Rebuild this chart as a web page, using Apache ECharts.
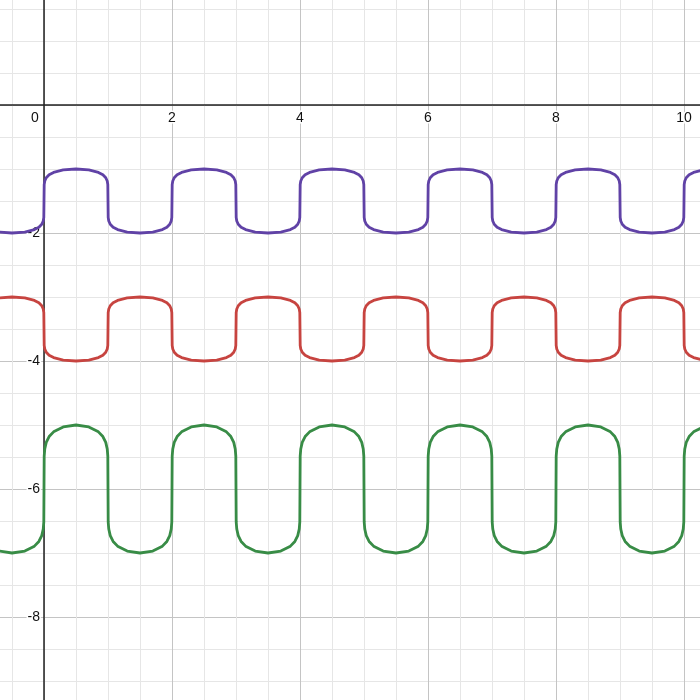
<!DOCTYPE html>
<html><head><meta charset="utf-8">
<script src="https://cdn.jsdelivr.net/npm/echarts@6/dist/echarts.min.js"></script>
<style>html,body{margin:0;padding:0;background:#fff}#c{width:700px;height:700px}</style>
</head><body><div id="c"></div>
<script>
const xs = [
-1,-0.997,-0.988,-0.965,-0.92,-0.85,-0.7,-0.5,-0.3,-0.15,-0.08,-0.035,-0.012,-0.003,
0,0.003,0.012,0.035,0.08,0.15,0.3,0.5,0.7,0.85,0.92,0.965,0.988,0.997,
1,1.003,1.012,1.035,1.08,1.15,1.3,1.5,1.7,1.85,1.92,1.965,1.988,1.997,
2,2.003,2.012,2.035,2.08,2.15,2.3,2.5,2.7,2.85,2.92,2.965,2.988,2.997,
3,3.003,3.012,3.035,3.08,3.15,3.3,3.5,3.7,3.85,3.92,3.965,3.988,3.997,
4,4.003,4.012,4.035,4.08,4.15,4.3,4.5,4.7,4.85,4.92,4.965,4.988,4.997,
5,5.003,5.012,5.035,5.08,5.15,5.3,5.5,5.7,5.85,5.92,5.965,5.988,5.997,
6,6.003,6.012,6.035,6.08,6.15,6.3,6.5,6.7,6.85,6.92,6.965,6.988,6.997,
7,7.003,7.012,7.035,7.08,7.15,7.3,7.5,7.7,7.85,7.92,7.965,7.988,7.997,
8,8.003,8.012,8.035,8.08,8.15,8.3,8.5,8.7,8.85,8.92,8.965,8.988,8.997,
9,9.003,9.012,9.035,9.08,9.15,9.3,9.5,9.7,9.85,9.92,9.965,9.988,9.997,
10,10.003,10.012,10.035,10.08,10.15,10.3,10.5,10.7,10.85,10.92,10.965,10.988,10.997,
11];

const purpleY = [
-1.5,-1.757,-1.813,-1.864,-1.91,-1.946,-1.985,-2,-1.985,-1.946,-1.91,-1.864,-1.813,-1.757,
-1.5,-1.243,-1.187,-1.136,-1.09,-1.054,-1.015,-1,-1.015,-1.054,-1.09,-1.136,-1.187,-1.243,
-1.5,-1.757,-1.813,-1.864,-1.91,-1.946,-1.985,-2,-1.985,-1.946,-1.91,-1.864,-1.813,-1.757,
-1.5,-1.243,-1.187,-1.136,-1.09,-1.054,-1.015,-1,-1.015,-1.054,-1.09,-1.136,-1.187,-1.243,
-1.5,-1.757,-1.813,-1.864,-1.91,-1.946,-1.985,-2,-1.985,-1.946,-1.91,-1.864,-1.813,-1.757,
-1.5,-1.243,-1.187,-1.136,-1.09,-1.054,-1.015,-1,-1.015,-1.054,-1.09,-1.136,-1.187,-1.243,
-1.5,-1.757,-1.813,-1.864,-1.91,-1.946,-1.985,-2,-1.985,-1.946,-1.91,-1.864,-1.813,-1.757,
-1.5,-1.243,-1.187,-1.136,-1.09,-1.054,-1.015,-1,-1.015,-1.054,-1.09,-1.136,-1.187,-1.243,
-1.5,-1.757,-1.813,-1.864,-1.91,-1.946,-1.985,-2,-1.985,-1.946,-1.91,-1.864,-1.813,-1.757,
-1.5,-1.243,-1.187,-1.136,-1.09,-1.054,-1.015,-1,-1.015,-1.054,-1.09,-1.136,-1.187,-1.243,
-1.5,-1.757,-1.813,-1.864,-1.91,-1.946,-1.985,-2,-1.985,-1.946,-1.91,-1.864,-1.813,-1.757,
-1.5,-1.243,-1.187,-1.136,-1.09,-1.054,-1.015,-1,-1.015,-1.054,-1.09,-1.136,-1.187,-1.243,
-1.5];

const redY = [
-3.5,-3.243,-3.187,-3.136,-3.09,-3.054,-3.015,-3,-3.015,-3.054,-3.09,-3.136,-3.187,-3.243,
-3.5,-3.757,-3.813,-3.864,-3.91,-3.946,-3.985,-4,-3.985,-3.946,-3.91,-3.864,-3.813,-3.757,
-3.5,-3.243,-3.187,-3.136,-3.09,-3.054,-3.015,-3,-3.015,-3.054,-3.09,-3.136,-3.187,-3.243,
-3.5,-3.757,-3.813,-3.864,-3.91,-3.946,-3.985,-4,-3.985,-3.946,-3.91,-3.864,-3.813,-3.757,
-3.5,-3.243,-3.187,-3.136,-3.09,-3.054,-3.015,-3,-3.015,-3.054,-3.09,-3.136,-3.187,-3.243,
-3.5,-3.757,-3.813,-3.864,-3.91,-3.946,-3.985,-4,-3.985,-3.946,-3.91,-3.864,-3.813,-3.757,
-3.5,-3.243,-3.187,-3.136,-3.09,-3.054,-3.015,-3,-3.015,-3.054,-3.09,-3.136,-3.187,-3.243,
-3.5,-3.757,-3.813,-3.864,-3.91,-3.946,-3.985,-4,-3.985,-3.946,-3.91,-3.864,-3.813,-3.757,
-3.5,-3.243,-3.187,-3.136,-3.09,-3.054,-3.015,-3,-3.015,-3.054,-3.09,-3.136,-3.187,-3.243,
-3.5,-3.757,-3.813,-3.864,-3.91,-3.946,-3.985,-4,-3.985,-3.946,-3.91,-3.864,-3.813,-3.757,
-3.5,-3.243,-3.187,-3.136,-3.09,-3.054,-3.015,-3,-3.015,-3.054,-3.09,-3.136,-3.187,-3.243,
-3.5,-3.757,-3.813,-3.864,-3.91,-3.946,-3.985,-4,-3.985,-3.946,-3.91,-3.864,-3.813,-3.757,
-3.5];

const greenY = [
-6,-6.514,-6.626,-6.729,-6.82,-6.893,-6.97,-7,-6.97,-6.893,-6.82,-6.729,-6.626,-6.514,
-6,-5.486,-5.374,-5.271,-5.18,-5.107,-5.03,-5,-5.03,-5.107,-5.18,-5.271,-5.374,-5.486,
-6,-6.514,-6.626,-6.729,-6.82,-6.893,-6.97,-7,-6.97,-6.893,-6.82,-6.729,-6.626,-6.514,
-6,-5.486,-5.374,-5.271,-5.18,-5.107,-5.03,-5,-5.03,-5.107,-5.18,-5.271,-5.374,-5.486,
-6,-6.514,-6.626,-6.729,-6.82,-6.893,-6.97,-7,-6.97,-6.893,-6.82,-6.729,-6.626,-6.514,
-6,-5.486,-5.374,-5.271,-5.18,-5.107,-5.03,-5,-5.03,-5.107,-5.18,-5.271,-5.374,-5.486,
-6,-6.514,-6.626,-6.729,-6.82,-6.893,-6.97,-7,-6.97,-6.893,-6.82,-6.729,-6.626,-6.514,
-6,-5.486,-5.374,-5.271,-5.18,-5.107,-5.03,-5,-5.03,-5.107,-5.18,-5.271,-5.374,-5.486,
-6,-6.514,-6.626,-6.729,-6.82,-6.893,-6.97,-7,-6.97,-6.893,-6.82,-6.729,-6.626,-6.514,
-6,-5.486,-5.374,-5.271,-5.18,-5.107,-5.03,-5,-5.03,-5.107,-5.18,-5.271,-5.374,-5.486,
-6,-6.514,-6.626,-6.729,-6.82,-6.893,-6.97,-7,-6.97,-6.893,-6.82,-6.729,-6.626,-6.514,
-6,-5.486,-5.374,-5.271,-5.18,-5.107,-5.03,-5,-5.03,-5.107,-5.18,-5.271,-5.374,-5.486,
-6];

const seriesColors = ['#6042a6', '#c74440', '#388c46'];

function zip(ys) { return xs.map((x, i) => [x, ys[i]]); }

const chart = echarts.init(document.getElementById('c'), null, {renderer: 'canvas'});
const labelStyle = {
  color: '#111', fontSize: 14, fontFamily: 'Arial, Liberation Sans, sans-serif',
  textBorderColor: '#fff', textBorderWidth: 3
};
chart.setOption({
  animation: false,
  backgroundColor: '#fff',
  grid: {left: -84, right: -112, top: -23, bottom: -45, containLabel: false, outerBoundsMode: 'none'},
  xAxis: {
    type: 'value', min: -2, max: 12, interval: 2,
    position: 'bottom', offset: -640,
    axisLine: {onZero: false, lineStyle: {color: '#222', width: 1.5}},
    axisTick: {show: false},
    axisLabel: Object.assign({}, labelStyle, {
      margin: 6, hideOverlap: false,
      formatter: v => v === 0 ? '{z|0}' : String(v),
      rich: {z: Object.assign({}, labelStyle, {padding: [0, 18, 0, 0]})}
    }),
    splitLine: {show: true, lineStyle: {color: '#c4c4c4', width: 1}},
    minorTick: {show: false, splitNumber: 4},
    minorSplitLine: {show: true, lineStyle: {color: '#e6e6e6', width: 1}}
  },
  yAxis: {
    type: 'value', min: -10, max: 2, interval: 2,
    position: 'left', offset: -128,
    axisLine: {onZero: false, lineStyle: {color: '#222', width: 1.5}},
    axisTick: {show: false},
    axisLabel: Object.assign({}, labelStyle, {
      margin: 4, hideOverlap: false,
      formatter: v => v === 0 ? '' : String(v)
    }),
    splitLine: {show: true, lineStyle: {color: '#c4c4c4', width: 1}},
    minorTick: {show: false, splitNumber: 4},
    minorSplitLine: {show: true, lineStyle: {color: '#e6e6e6', width: 1}}
  },
  series: [purpleY, redY, greenY].map((ys, i) => ({
    type: 'line', data: zip(ys), showSymbol: false, smooth: false, clip: true,
    lineStyle: {color: seriesColors[i], width: 2.8, join: 'round', cap: 'round'}, z: 3
  }))
});
</script></body></html>
